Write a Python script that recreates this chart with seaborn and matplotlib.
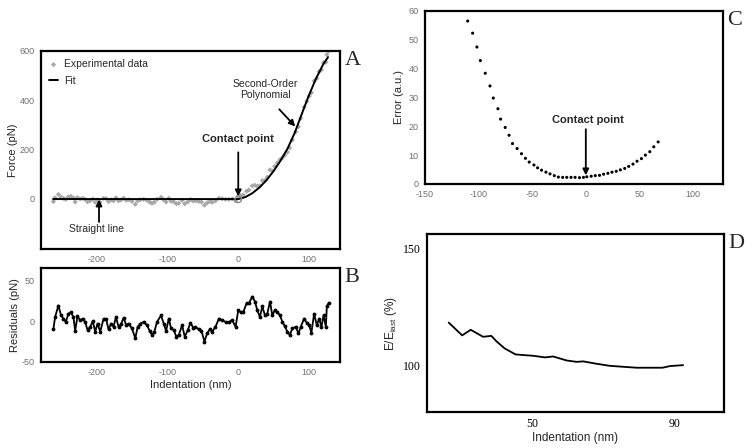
import numpy as np
import pandas as pd
import matplotlib
matplotlib.use("Agg")
import matplotlib.pyplot as plt
import seaborn as sns

# =========================
# Data
# =========================

# Panel A / B: indentation (nm), experimental force and residuals (pN)
indent_nm = [-261.5, -259.1, -254.4, -250.6, -247.3, -244.0, -240.2, -236.9, -233.1, -230.7,
             -227.4, -223.6, -219.9, -216.5, -213.2, -209.5, -205.7, -202.4, -199.1, -195.3,
             -190.5, -186.8, -183.5, -179.7, -176.4, -173.0, -169.3, -166.0, -162.2, -158.4,
             -155.1, -150.4, -145.6, -142.3, -138.5, -133.8, -129.1, -125.3, -122.0, -118.7,
             -114.9, -109.2, -105.4, -102.1, -98.3, -95.0, -91.3, -87.5, -84.2, -79.4,
             -75.7, -71.4, -67.6, -63.8, -60.5, -55.8, -52.0, -47.8, -44.0, -40.2,
             -36.9, -32.2, -27.4, -22.7, -18.0, -13.2, -8.5, -3.8, 0.0, 3.3,
             7.1, 11.8, 15.1, 19.9, 23.6, 27.0, 30.7, 34.0, 37.8, 41.1,
             44.9, 48.2, 51.5, 55.3, 59.1, 62.4, 65.7, 69.5, 72.8, 76.6,
             81.3, 85.1, 88.4, 93.1, 96.9, 100.2, 103.5, 107.3, 111.1, 114.4,
             117.7, 120.6, 123.9, 125.3, 127.7]

force_exp = [-12, 3, 17, 5, 1, -3, 7, 9, 3, -14, 4, -1, 1, -3, -13, -9, -2, -15, -5, -15,
             1, 0, -12, -5, -9, 3, -9, -6, 2, -7, -5, -11, -23, -9, -5, -3, -7, -14, -19, -15,
             -3, 5, -5, -14, 1, -11, -13, -21, -19, -7, -21, -13, -4, -10, -9, -12, -14, -27, -17, -12,
             -15, -9, 1, -1, -3, -3, -1, -9, 11, 12, 15, 30, 35, 52, 54, 51, 52, 73, 74, 87,
             117, 112, 131, 145, 158, 166, 176, 189, 206, 238, 271, 292, 326, 372, 395, 416, 430, 478, 489, 516,
             523, 553, 554, 585, 600]

residuals = [-10, 5, 19, 7, 3, -1, 9, 11, 5, -12, 6, 1, 3, -1, -11, -7, 0, -13, -3, -13,
             3, 2, -10, -3, -7, 5, -7, -4, 4, -5, -3, -9, -21, -7, -3, -1, -5, -12, -17, -13,
             -1, 7, -3, -12, 3, -9, -11, -19, -17, -5, -19, -11, -2, -8, -7, -10, -12, -25, -15, -10,
             -13, -7, 3, 1, -1, -1, 1, -7, 13, 11, 11, 22, 22, 30, 24, 13, 5, 18, 7, 9,
             24, 7, 13, 11, 7, -1, -6, -13, -17, -9, -7, -15, -7, 3, -2, -5, -14, 9, -5, 3,
             -7, 7, -7, 18, 22]

# Fit curve (straight line + second-order polynomial)
fit_x = [-262, 0, 10, 20, 30, 40, 50, 60, 70, 80, 90, 100, 110, 120, 127]
fit_f = [-2, -2, 6, 22, 45, 75, 112, 155, 205, 268, 345, 420, 488, 545, 575]

contact_x = [0]
contact_f = [-3]

# Panel C: error vs. trial contact point
trial_cp = [-110.2, -105.6, -101.6, -98.4, -93.8, -89.4, -86.3, -82.0, -79.5, -75.2,
            -71.6, -68.4, -64.1, -60.0, -56.3, -52.8, -48.4, -45.0, -41.3, -37.2,
            -33.4, -29.4, -25.6, -21.6, -17.8, -13.8, -10.0, -5.9, -2.2, 0.9,
            5.0, 8.8, 12.8, 16.6, 20.6, 24.4, 28.4, 32.2, 36.3, 40.0,
            44.0, 47.8, 51.9, 55.6, 59.7, 63.4, 67.5]
error_au = [56.5, 52.3, 47.5, 42.8, 38.4, 34.0, 29.8, 26.1, 22.5, 19.6,
            16.9, 14.0, 12.3, 10.5, 8.9, 7.6, 6.6, 5.6, 4.8, 4.1,
            3.5, 2.9, 2.4, 2.3, 2.3, 2.3, 2.3, 2.2, 2.3, 2.5,
            2.7, 2.9, 3.0, 3.4, 3.7, 4.1, 4.4, 4.9, 5.4, 6.1,
            6.9, 7.9, 8.8, 10.0, 11.2, 12.9, 14.6]

# Panel D: E / E_last vs indentation
d_indent = [26.5, 30.3, 32.7, 36.2, 38.5, 40.0, 42.3, 45.3, 47.5, 50.3,
            53.6, 55.9, 59.7, 62.5, 64.4, 68.1, 71.9, 75.6, 79.4, 83.1,
            86.7, 88.8, 92.5]
e_ratio = [118.2, 112.7, 115.1, 112.1, 112.5, 110.1, 107.1, 104.6, 104.3, 104.0,
           103.3, 103.7, 102.0, 101.4, 101.6, 100.6, 99.7, 99.3, 98.9, 98.9,
           98.9, 99.6, 100.0]

# =========================
# Style
# =========================

sns.set_style("white")
plt.rcParams["font.family"] = ["Liberation Sans", "DejaVu Sans"]
plt.rcParams["mathtext.default"] = "regular"
plt.rcParams["axes.unicode_minus"] = False

grey_tick = "#707070"
exp_grey = "#a8a8a8"

fig = plt.figure(figsize=(7.54, 4.48), dpi=100)
ax_a = fig.add_axes([0.0544, 0.4442, 0.3966, 0.442])
ax_b = fig.add_axes([0.0544, 0.192, 0.3966, 0.2098])
ax_c = fig.add_axes([0.5637, 0.5893, 0.3952, 0.3862])
ax_d = fig.add_axes([0.5663, 0.0804, 0.3939, 0.3973])


def frame(ax, tick_color=grey_tick, size=6.5):
    for s in ax.spines.values():
        s.set_color("black")
        s.set_linewidth(1.6)
    ax.tick_params(axis="both", direction="out", length=2.5, width=0.8,
                   colors="black", labelcolor=tick_color, labelsize=size, pad=2)


arrow = dict(arrowstyle="-|>", color="black", lw=1.3, mutation_scale=9,
             shrinkA=0, shrinkB=0)

# =========================
# Panel A
# =========================

df_a = pd.DataFrame({"x": indent_nm, "f": force_exp})
sns.scatterplot(data=df_a, x="x", y="f", ax=ax_a, marker="D", s=7, color=exp_grey,
                edgecolor="none", label="Experimental data", zorder=2)
sns.lineplot(x=fit_x, y=fit_f, ax=ax_a, color="black", linewidth=1.4,
             label="Fit", sort=False, estimator=None, zorder=3)
ax_a.scatter(contact_x, contact_f, s=22, facecolor="none", edgecolor="#888888",
             linewidth=1.0, zorder=4)

ax_a.set_xlim(-279, 144)
ax_a.set_ylim(-205, 600)
ax_a.set_xticks([-200, -100, 0, 100])
ax_a.set_yticks([0, 200, 400, 600])
ax_a.set_xlabel("")
ax_a.set_ylabel("Force (pN)", fontsize=8, labelpad=1)
frame(ax_a)

ax_a.legend(loc="upper left", frameon=False, fontsize=7.5, handlelength=0.8,
            handletextpad=0.6, borderaxespad=0.4, labelspacing=0.6)

ax_a.text(0, 222, "Contact point", ha="center", va="bottom", fontsize=8,
          fontweight="bold")
ax_a.annotate("", xy=(0, 9), xytext=(0, 188), arrowprops=arrow)
ax_a.text(38, 400, "Second-Order\nPolynomial", ha="center", va="bottom",
          fontsize=7.5, linespacing=1.1)
ax_a.annotate("", xy=(80.6, 293), xytext=(58, 363), arrowprops=arrow)
ax_a.text(-200, -103, "Straight line", ha="center", va="top", fontsize=7.5)
ax_a.annotate("", xy=(-197, -4), xytext=(-197, -95), arrowprops=arrow)

# =========================
# Panel B
# =========================

sns.lineplot(x=indent_nm, y=residuals, ax=ax_b, color="black", linewidth=1.3,
             marker="o", markersize=2, markeredgecolor="black", sort=False,
             estimator=None)
ax_b.set_xlim(-279, 144)
ax_b.set_ylim(-50, 65)
ax_b.set_xticks([-200, -100, 0, 100])
ax_b.set_yticks([-50, 0, 50])
ax_b.set_xlabel("Indentation (nm)", fontsize=8, labelpad=2)
ax_b.set_ylabel("Residuals (pN)", fontsize=8, labelpad=1)
frame(ax_b)

# =========================
# Panel C
# =========================

sns.scatterplot(x=trial_cp, y=error_au, ax=ax_c, s=5, color="black",
                edgecolor="none")
ax_c.set_xlim(-150, 128)
ax_c.set_ylim(0, 60)
ax_c.set_xticks([-150, -100, -50, 0, 50, 100])
ax_c.set_yticks([0, 10, 20, 30, 40, 50, 60])
ax_c.set_ylabel("Error (a.u.)", fontsize=8, labelpad=3)
frame(ax_c)
ax_c.text(2, 20.5, "Contact point", ha="center", va="bottom", fontsize=8,
          fontweight="bold")
ax_c.annotate("", xy=(0, 3.0), xytext=(0, 19), arrowprops=arrow)

# =========================
# Panel D
# =========================

sns.lineplot(x=d_indent, y=e_ratio, ax=ax_d, color="black", linewidth=1.3,
             sort=False, estimator=None)
ax_d.set_xlim(20.4, 104)
ax_d.set_ylim(80, 156)
ax_d.set_xticks([50, 90])
ax_d.set_yticks([100, 150])
ax_d.set_xlabel("Indentation (nm)", fontsize=8.5, labelpad=1)
ax_d.set_ylabel(r"E/E$_{last}$ (%)", fontsize=8.5, labelpad=3)
frame(ax_d, tick_color="black", size=8.5)
for lab in ax_d.get_xticklabels() + ax_d.get_yticklabels():
    lab.set_family(["Liberation Serif", "DejaVu Serif"])

# Panel letters
for ax, letter in [(ax_a, "A"), (ax_b, "B"), (ax_c, "C"), (ax_d, "D")]:
    ax.text(1.015, 1.0, letter, transform=ax.transAxes, ha="left", va="top",
            fontsize=16, family=["Liberation Serif", "DejaVu Serif"])

fig.savefig("out.png", dpi=100)
